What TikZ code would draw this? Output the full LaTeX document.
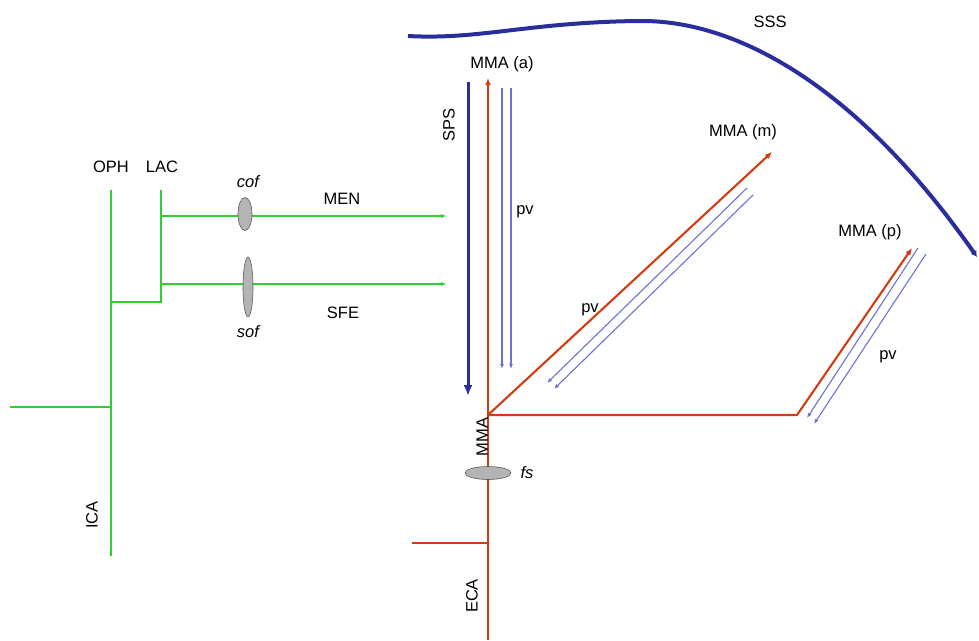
\documentclass[tikz,border=0pt]{standalone}
\usepackage{fontspec}
\setmainfont{Liberation Sans}
\usetikzlibrary{arrows.meta,shapes.geometric}
\definecolor{grn}{HTML}{33CC33}
\definecolor{rd}{HTML}{D23C14}
\definecolor{nav}{HTML}{2A2E9C}
\definecolor{lav}{HTML}{6E72D0}
\definecolor{gfill}{HTML}{B4B4B4}
\begin{document}
\begin{tikzpicture}[x=1pt,y=-1pt,
  lbl/.style={font=\fontsize{16.5}{18}\selectfont, inner sep=0pt},
  ilbl/.style={font=\fontsize{16.5}{18}\selectfont\itshape, inner sep=0pt},
  gline/.style={draw=grn, line width=2.3pt},
  rline/.style={draw=rd, line width=2.1pt},
  pvline/.style={draw=lav, line width=1.1pt, -{Latex[length=5pt,width=4pt]}},
  oval/.style={ellipse, draw=gray!70!black, fill=gfill, line width=0.6pt, inner sep=0pt}]
\useasboundingbox (0,0) rectangle (979,640);
% ---- green (internal carotid side)
\coordinate (icaTop) at (111,190);
\coordinate (icaBot) at (111,556);
\coordinate (icaIn) at (10,407);
\coordinate (icaJ) at (111,407);
\coordinate (lacTop) at (161,190);
\coordinate (lacBot) at (161,302);
\coordinate (ophJ) at (111,302);
\coordinate (menS) at (161,216);
\coordinate (menE) at (447,216);
\coordinate (sfeS) at (161,284);
\coordinate (sfeE) at (447,284);
\draw[gline] (icaTop) -- (icaBot);
\draw[gline] (icaIn) -- (icaJ);
\draw[gline] (ophJ) -- (lacBot) -- (lacTop);
\draw[gline, -{Latex[length=6pt,width=4pt]}] (menS) -- (menE);
\draw[gline, -{Latex[length=6pt,width=4pt]}] (sfeS) -- (sfeE);
\node[oval, minimum width=14pt, minimum height=33pt] (cof) at (245,214) {};
\node[oval, minimum width=10pt, minimum height=60pt] (sof) at (248,287) {};
\node[lbl] (oph) at (111,167) {OPH};
\node[lbl] (lac) at (162,167) {LAC};
\node[ilbl] (cofl) at (248,182) {cof};
\node[ilbl] (sofl) at (248,332) {sof};
\node[lbl] (men) at (342,199) {MEN};
\node[lbl] (sfe) at (343,313) {SFE};
\node[lbl, rotate=90] (ica) at (92,515) {ICA};
% ---- superior sagittal sinus
\coordinate (sssS) at (408,36);
\coordinate (sssM) at (640,21);
\coordinate (sssE) at (977,257);
\draw[draw=nav, line width=4pt, -{Latex[length=6pt,width=7pt]}]
  (sssS) .. controls (480,40) and (530,22) .. (sssM)
         .. controls (740,20) and (860,90) .. (sssE);
\node[lbl] (sss) at (770,22) {SSS};
% ---- SPS
\coordinate (spsTop) at (468,82);
\coordinate (spsBot) at (468,396);
\draw[draw=nav, line width=3pt, -{Latex[length=11pt,width=9pt]}] (spsTop) -- (spsBot);
\node[lbl, rotate=90] (sps) at (449,125) {SPS};
% ---- middle meningeal artery
\coordinate (junc) at (488,415);
\coordinate (aTop) at (488,78);
\coordinate (mTip) at (772,152);
\coordinate (pKnee) at (797,415);
\coordinate (pTip) at (912,248);
\coordinate (ecaJ) at (488,543);
\coordinate (ecaIn) at (412,543);
\coordinate (ecaBot) at (488,640);
\draw[rline, -{Latex[length=7pt,width=6pt]}] (ecaJ) -- (aTop);
\draw[draw=rd, line width=2.8pt] (ecaJ) -- (ecaBot);
\draw[draw=rd, line width=2.8pt] (ecaIn) -- (ecaJ);
\draw[rline, -{Latex[length=7pt,width=6pt]}] (junc) -- (mTip);
\draw[rline, -{Latex[length=7pt,width=6pt]}] (junc) -- (pKnee) -- (pTip);
\node[oval, minimum width=46pt, minimum height=13pt] (fs) at (488,473) {};
\node[ilbl] (fsl) at (527,473) {fs};
\node[lbl, rotate=90, anchor=south] (mma) at (488,437) {MMA};
\node[lbl, rotate=90] (eca) at (472,596) {ECA};
\node[lbl] (mmaa) at (502,64) {MMA (a)};
\node[lbl] (mmam) at (743,132) {MMA (m)};
\node[lbl] (mmap) at (870,232) {MMA (p)};
% ---- pv (parallel veins)
\coordinate (pv1s) at (502,88);
\coordinate (pv1e) at (502,369);
\coordinate (pv2s) at (511,88);
\coordinate (pv2e) at (511,369);
\draw[pvline] (pv1s) -- (pv1e);
\draw[pvline] (pv2s) -- (pv2e);
\coordinate (pv3s) at (747,188);
\coordinate (pv3e) at (547,383);
\coordinate (pv4s) at (753,195);
\coordinate (pv4e) at (554,389);
\draw[pvline] (pv3s) -- (pv3e);
\draw[pvline] (pv4s) -- (pv4e);
\coordinate (pv5s) at (918,248);
\coordinate (pv5e) at (807,418);
\coordinate (pv6s) at (926,254);
\coordinate (pv6e) at (814,424);
\draw[pvline] (pv5s) -- (pv5e);
\draw[pvline] (pv6s) -- (pv6e);
\node[lbl] (pva) at (525,212) {pv};
\node[lbl] (pvm) at (590,310) {pv};
\node[lbl] (pvp) at (888,357) {pv};
\end{tikzpicture}
\end{document}
